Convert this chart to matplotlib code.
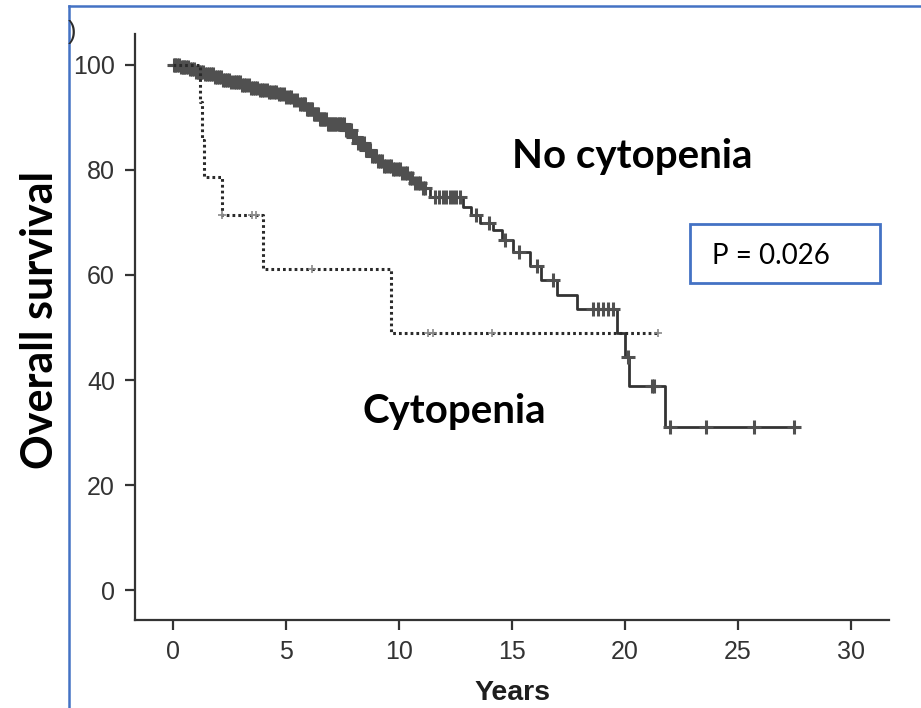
import numpy as np
import matplotlib
matplotlib.use("Agg")
import matplotlib.pyplot as plt
from matplotlib.lines import Line2D
from matplotlib.patches import Rectangle

# Kaplan-Meier step data: time of each step (years) and survival (%) after it
nc_time = [0, 0.3, 0.7, 1.0, 1.4, 1.8, 2.2, 2.6, 3.0, 3.4,
           3.8, 4.2, 4.6, 5.0, 5.3, 5.6, 5.9, 6.2, 6.5, 6.8,
           7.6, 7.9, 8.2, 8.5, 8.8, 9.0, 9.3, 9.7, 10.1, 10.4,
           10.7, 11.0, 11.4, 12.83, 13.2, 13.6, 14.18, 14.55, 15.07, 15.8,
           16.3, 16.98, 17.87, 19.66, 20.0, 20.2, 21.77]
nc_surv = [100, 99.6, 99.1, 98.6, 98.1, 97.6, 97.1, 96.6, 96.1, 95.6,
           95.1, 94.7, 94.3, 93.8, 93.2, 92.5, 91.6, 90.6, 89.6, 88.6,
           87.5, 86.3, 85.0, 83.8, 82.6, 81.6, 80.7, 80.2, 79.4, 78.4,
           77.4, 76.5, 74.8, 73.0, 71.4, 69.8, 68.6, 66.7, 64.4, 61.6,
           59.0, 56.2, 53.6, 48.9, 44.4, 38.9, 31.1]
nc_end = 27.5
nc_censor = [0.05, 0.12, 0.2, 0.28, 0.36, 0.45, 0.52, 0.6, 0.68, 0.77,
             0.85, 0.93, 1.02, 1.1, 1.18, 1.27, 1.35, 1.44, 1.52, 1.61,
             1.7, 1.78, 1.87, 1.95, 2.05, 2.14, 2.23, 2.32, 2.41, 2.5,
             2.6, 2.69, 2.78, 2.88, 2.97, 3.07, 3.16, 3.26, 3.36, 3.45,
             3.55, 3.65, 3.75, 3.85, 3.95, 4.05, 4.15, 4.26, 4.36, 4.47,
             4.58, 4.69, 4.8, 4.91, 5.02, 5.14, 5.25, 5.37, 5.49, 5.61,
             5.73, 5.8, 5.86, 5.92, 5.98, 6.05, 6.11, 6.18, 6.24, 6.3,
             6.37, 6.44, 6.5, 6.57, 6.64, 6.71, 6.78, 6.85, 6.92, 6.99,
             7.06, 7.13, 7.2, 7.28, 7.35, 7.42, 7.5, 7.57, 7.65, 7.72,
             7.8, 7.88, 7.96, 8.04, 8.12, 8.2, 8.28, 8.36, 8.45, 8.53,
             8.62, 8.71, 8.8, 8.89, 8.98, 9.07, 9.16, 9.25, 9.35, 9.45,
             9.55, 9.65, 9.75, 9.85, 9.95, 10.05, 10.16, 10.27, 10.38, 10.49,
             10.6, 10.71, 10.83, 10.95, 11.06, 11.18, 11.6, 11.8, 11.95, 12.1,
             12.25, 12.4, 12.55, 12.7, 13.4, 14.0, 14.7, 15.3, 16.1, 16.8,
             18.6, 18.8, 19.03, 19.25, 19.47, 20.14, 21.2, 21.3, 22.0, 23.6,
             25.7, 27.5]

cy_time = [0, 1.22, 1.29, 1.38, 2.17, 4.0, 9.64]
cy_surv = [100, 92.9, 85.7, 78.6, 71.4, 61.2, 49.0]
cy_end = 21.48
cy_censor = [2.2, 3.5, 3.7, 6.15, 11.3, 11.5, 14.1, 21.48]

x_ticks = [0, 5, 10, 15, 20, 25, 30]
y_ticks = [0, 20, 40, 60, 80, 100]

W, H = 921, 708
AX_COL = "#333333"
BLUE = "#4472C4"


def km_curve(ax, times, surv, end, censor, ls, lw, color, mcolor, msize, mew):
    t = np.append(times, end)
    s = np.append(surv, surv[-1])
    ax.step(t, s, where="post", color=color, lw=lw, linestyle=ls)
    idx = np.searchsorted(times, censor, side="right") - 1
    ax.plot(censor, np.asarray(surv)[idx], linestyle="none", marker="+",
            ms=msize, mew=mew, color=mcolor)


def fx(px):
    return px / W


def fy(py):
    return 1 - py / H


fig = plt.figure(figsize=(9.21, 7.08), dpi=100)
ax = fig.add_axes([fx(134.7), fy(620.3), fx(889) - fx(134.7), fy(34) - fy(620.3)])

km_curve(ax, nc_time, nc_surv, nc_end, nc_censor, "-", 2.0, "#333333", "#505050", 9.5, 2.2)
km_curve(ax, cy_time, cy_surv, cy_end, cy_censor, (0, (0.9, 1.0)), 2.2, "#2a2a2a", "#8a8a8a", 6, 1.2)

ax.set_xlim(-1.68, 31.68)
ax.set_ylim(-5.67, 105.8)
ax.set_xticks(x_ticks)
ax.set_yticks(y_ticks)
for side in ["top", "right"]:
    ax.spines[side].set_visible(False)
for side in ["left", "bottom"]:
    ax.spines[side].set_color(AX_COL)
    ax.spines[side].set_linewidth(1.6)
ax.tick_params(direction="out", length=7.2, width=1.6, color=AX_COL,
               labelcolor=AX_COL, labelsize=18, pad=7)
for lab in ax.get_xticklabels() + ax.get_yticklabels():
    lab.set_family("Liberation Sans")

fig.text(fx(512), fy(700), "Years", ha="center", va="baseline",
         fontsize=20.5, fontweight="bold", family="Liberation Sans", color="#1e1e1e")
fig.text(fx(40), fy(320), "Overall survival", rotation=90, ha="center", va="center",
         fontsize=31, fontweight="bold", family="Lato", color="black")

fig.text(fx(632), fy(168), "No cytopenia", ha="center", va="baseline",
         fontsize=29, fontweight="bold", family="Lato", color="black")
fig.text(fx(454), fy(423), "Cytopenia", ha="center", va="baseline",
         fontsize=29, fontweight="bold", family="Lato", color="black")

# p-value box
fig.add_artist(Rectangle((fx(690), fy(282.7)), fx(880) - fx(690), fy(224) - fy(282.7),
                         transform=fig.transFigure, facecolor="white",
                         edgecolor=BLUE, lw=2))
fig.text(fx(711.7), fy(264.3), "P = 0.026", ha="left", va="baseline",
         fontsize=20, family="Lato", color="black")

# panel frame and clipped panel letter
fig.add_artist(Line2D([fx(69), fx(69)], [fy(6), 0], transform=fig.transFigure,
                      color=BLUE, lw=1.8))
fig.add_artist(Line2D([fx(69), 1], [fy(6), fy(6)], transform=fig.transFigure,
                      color=BLUE, lw=1.8))
fig.text(fx(76), fy(32), ")", ha="right", va="center", fontsize=18,
         family="Liberation Sans", color="#2b2b2b")

fig.savefig("out.png", dpi=100)
